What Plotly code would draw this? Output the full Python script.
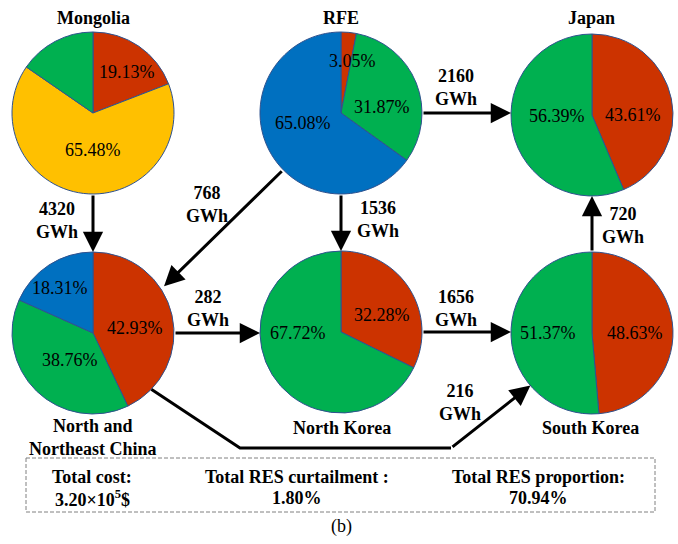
import math
import plotly.graph_objects as go

# ---------------- data ----------------
RED, GREEN, YELLOW, BLUE = "#CC3300", "#00B050", "#FFC000", "#0070C0"

region_names = ["Mongolia", "RFE", "Japan", "North and<br>Northeast China", "North Korea", "South Korea"]

mongolia_shares = [19.13, 65.48, 15.39]
mongolia_labels = ["19.13%", "65.48%", ""]
mongolia_colors = [RED, YELLOW, GREEN]

rfe_shares = [3.05, 31.87, 65.08]
rfe_labels = ["3.05%", "31.87%", "65.08%"]
rfe_colors = [RED, GREEN, BLUE]

japan_shares = [43.61, 56.39]
japan_labels = ["43.61%", "56.39%"]
japan_colors = [RED, GREEN]

nne_china_shares = [42.93, 38.76, 18.31]
nne_china_labels = ["42.93%", "38.76%", "18.31%"]
nne_china_colors = [RED, GREEN, BLUE]

north_korea_shares = [32.28, 67.72]
north_korea_labels = ["32.28%", "67.72%"]
north_korea_colors = [RED, GREEN]

south_korea_shares = [48.63, 51.37]
south_korea_labels = ["48.63%", "51.37%"]
south_korea_colors = [RED, GREEN]

flow_sources = [0, 1, 1, 1, 3, 4, 5, 3]
flow_targets = [3, 3, 4, 2, 4, 5, 2, 5]
flow_gwh = [4320, 768, 1536, 2160, 282, 1656, 720, 216]

summary_titles = ["Total cost:", "Total RES curtailment :", "Total RES proportion:"]
summary_values = ["3.20×10<sup>5</sup>$", "1.80%", "70.94%"]
caption = "(b)"

# ---------------- layout (pixels) ----------------
W, H = 678, 544
R = 81
FONT = "Times New Roman, Liberation Serif, DejaVu Serif, serif"
centers = [(93, 113), (341, 113), (592, 115), (93, 333), (341, 332), (592, 333)]
# slice-label placement relative to each pie centre (pixels)
label_offsets = [
    [(34, -41), (0, 37), (0, 0)],
    [(11, -52), (41, -6), (-38, 10)],
    [(41, 0), (-35, 1)],
    [(42, -5), (-23, 27), (-33, -45)],
    [(41, -17), (-43, 1)],
    [(43, 0), (-44, 0)],
]
title_pos = [(93, 18), (341, 18), (591, 18), (93, 437), (342, 428), (590, 428)]
flow_label_pos = [(57, 220), (207, 204), (378, 219), (456, 87), (208, 308), (456, 308), (623, 225), (460, 402)]
# edge angles (clockwise from 12 o'clock) for the non-axis-aligned connectors
diag_angles = {1: (225.5, 56.7, 4), 7: (134, 229.5, 0)}
detour_bottom_y = 448
detour_x = (240, 451)
summary_x = [92, 297, 538]
summary_y = (477, 498)
box = (26, 458, 655, 512)

pies = [
    (mongolia_shares, mongolia_labels, mongolia_colors),
    (rfe_shares, rfe_labels, rfe_colors),
    (japan_shares, japan_labels, japan_colors),
    (nne_china_shares, nne_china_labels, nne_china_colors),
    (north_korea_shares, north_korea_labels, north_korea_colors),
    (south_korea_shares, south_korea_labels, south_korea_colors),
]

fig = go.Figure()
# invisible trace to create pixel-based axes
fig.add_trace(go.Scatter(x=[], y=[], showlegend=False))

annotations = []
shapes = []

for (shares, labels, colors), (cx, cy), offs in zip(pies, centers, label_offsets):
    fig.add_trace(go.Pie(
        values=shares, textinfo="none",
        marker=dict(colors=colors, line=dict(color="#2F528F", width=1)),
        sort=False, direction="clockwise", rotation=0,
        domain=dict(x=[(cx - R) / W, (cx + R) / W], y=[1 - (cy + R) / H, 1 - (cy - R) / H]),
        showlegend=False, hoverinfo="skip",
    ))
    for lab, (ox, oy) in zip(labels, offs):
        if lab:
            annotations.append(dict(x=cx + ox, y=cy + oy, xref="x", yref="y", showarrow=False,
                                    text=lab, xanchor="center", yanchor="middle",
                                    font=dict(family=FONT, size=18, color="black")))

def edge_point(c, ang_deg, extra=0):
    a = math.radians(ang_deg)
    return (c[0] + (R + extra) * math.sin(a), c[1] - (R + extra) * math.cos(a))

for k, (s, t, g) in enumerate(zip(flow_sources, flow_targets, flow_gwh)):
    cs, ct = centers[s], centers[t]
    if k in diag_angles:
        a0, a1, gap = diag_angles[k]
        tail = edge_point(cs, a0)
        tip = edge_point(ct, a1, gap)
        if k == 7:
            # detour route below North Korea
            xs = [tail[0], detour_x[0], detour_x[1]]
            ys = [tail[1], detour_bottom_y, detour_bottom_y]
            fig.add_trace(go.Scatter(x=xs, y=ys, mode="lines", line=dict(color="black", width=3),
                                     showlegend=False, hoverinfo="skip"))
            tail = (detour_x[1], detour_bottom_y)
    else:
        dx, dy = ct[0] - cs[0], ct[1] - cs[1]
        if abs(dy) < 10:
            sg = 1 if dx > 0 else -1
            tail = (cs[0] + sg * R, cs[1])
            tip = (ct[0] - sg * R, cs[1])
        else:
            sg = 1 if dy > 0 else -1
            tail = (cs[0], cs[1] + sg * R)
            tip = (cs[0], ct[1] - sg * R)
    annotations.append(dict(x=tip[0], y=tip[1], ax=tail[0], ay=tail[1], xref="x", yref="y",
                            axref="x", ayref="y", text="", showarrow=True, arrowhead=2,
                            arrowsize=1.35, arrowwidth=3, arrowcolor="black", standoff=0))
    lx, ly = flow_label_pos[k]
    annotations.append(dict(x=lx, y=ly, xref="x", yref="y", showarrow=False,
                            text=f"<b>{g}<br>GWh</b>", xanchor="center", yanchor="middle",
                            font=dict(family=FONT, size=18, color="black")))

for name, (tx, ty) in zip(region_names, title_pos):
    annotations.append(dict(x=tx, y=ty, xref="x", yref="y", showarrow=False, text=f"<b>{name}</b>",
                            xanchor="center", yanchor="middle",
                            font=dict(family=FONT, size=18, color="black")))

for sx, st, sv in zip(summary_x, summary_titles, summary_values):
    annotations.append(dict(x=sx, y=summary_y[0], xref="x", yref="y", showarrow=False, text=f"<b>{st}</b>",
                            xanchor="center", yanchor="middle", font=dict(family=FONT, size=18, color="black")))
    annotations.append(dict(x=sx, y=summary_y[1], xref="x", yref="y", showarrow=False, text=f"<b>{sv}</b>",
                            xanchor="center", yanchor="middle", font=dict(family=FONT, size=18, color="black")))

annotations.append(dict(x=W / 2 + 2, y=526, xref="x", yref="y", showarrow=False, text=caption,
                        xanchor="center", yanchor="middle", font=dict(family=FONT, size=18, color="black")))

shapes.append(dict(type="rect", xref="x", yref="y", x0=box[0], y0=box[1], x1=box[2], y1=box[3],
                   line=dict(color="#808080", width=1, dash="4px,2px")))

fig.update_layout(
    width=W, height=H, margin=dict(l=0, r=0, t=0, b=0),
    paper_bgcolor="white", plot_bgcolor="white",
    xaxis=dict(range=[0, W], visible=False, domain=[0, 1], fixedrange=True),
    yaxis=dict(range=[H, 0], visible=False, domain=[0, 1], fixedrange=True),
    annotations=annotations, shapes=shapes,
)

fig.write_html("out.html", config={"displayModeBar": False},
               post_script="document.body.style.margin='0';document.body.style.overflow='hidden';")
